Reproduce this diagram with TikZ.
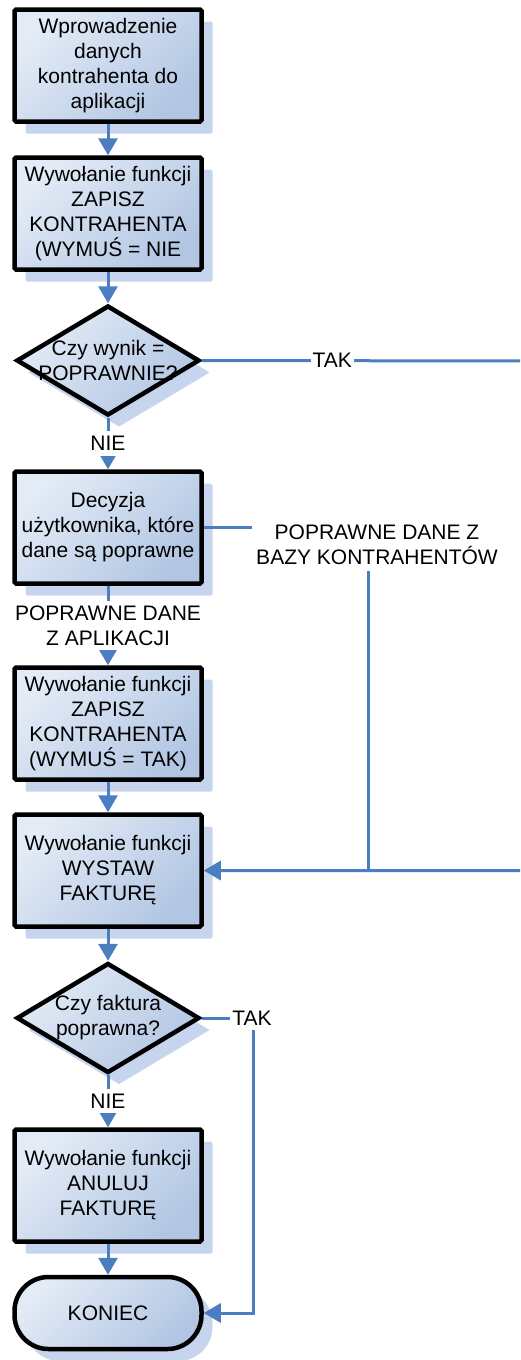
\documentclass[tikz,border=0pt]{standalone}
\usepackage{fontspec}
\setmainfont{Liberation Sans}
\usetikzlibrary{arrows.meta,shapes.geometric,shadows}

% Colours of the chart
\definecolor{boxlight}{RGB}{227,235,246}
\definecolor{boxdark}{RGB}{178,198,227}
\definecolor{linkblue}{RGB}{74,126,193}
\definecolor{shadowblue}{RGB}{198,213,237}

\tikzset{
  shaded/.style={draw=black, line width=4.5pt, top color=boxlight, bottom color=boxdark, shading angle=45,
    drop shadow={shadow xshift=11pt, shadow yshift=-12pt, fill=shadowblue, opacity=1}},
  procbox/.style={shaded, rectangle, rounded corners=1.5pt, minimum width=187pt, minimum height=112pt,
    inner sep=3pt, align=center},
  decision/.style={shaded, diamond, minimum width=183pt, minimum height=110pt, inner sep=0pt},
  terminal/.style={shaded, rectangle, rounded corners=34pt, minimum width=187pt, minimum height=72pt},
  link/.style={draw=linkblue, line width=3pt},
  arrow/.style={link, -{Triangle[width=19pt,length=17pt]}},
  lbl/.style={fill=white, inner xsep=2pt, inner ysep=5pt, align=center}
}

\begin{document}
\begin{tikzpicture}[x=1pt, y=-1pt, font=\fontsize{21}{25}\selectfont]

    % Frame of the picture
    \path[use as bounding box, clip] (0,0) rectangle (520,1360);

    % Points off the boxes
    \coordinate (poza) at (545,361);    % Right of the picture
    \coordinate (scal) at (368,871);    % Where the two branches meet

    % Boxes of the main column
    \node[procbox] (wprow) at (108,65.5) {Wprowadzenie\\danych\\kontrahenta do\\aplikacji};
    \node[procbox] (zapisznie) at (108,213.5) {Wywołanie funkcji\\ZAPISZ\\KONTRAHENTA\\(WYMUŚ = NIE};
    \node[decision, label={[align=center]center:Czy wynik =\\POPRAWNIE?}] (wynik) at (108,360.5) {};
    \node[procbox] (decyzja) at (108,527.5) {Decyzja\\użytkownika, które\\dane są poprawne};
    \node[procbox] (zapisztak) at (108,723.5) {Wywołanie funkcji\\ZAPISZ\\KONTRAHENTA\\(WYMUŚ = TAK)};
    \node[procbox] (wystaw) at (108,870.5) {Wywołanie funkcji\\WYSTAW\\FAKTURĘ};
    \node[decision, label={[align=center]center:Czy faktura\\poprawna?}] (faktura) at (108,1018) {};
    \node[procbox] (anuluj) at (108,1185.5) {Wywołanie funkcji\\ANULUJ\\FAKTURĘ};
    \node[terminal] (koniec) at (108,1313) {KONIEC};

    % Arrows down the column
    \draw[arrow] (wprow) -- (zapisznie);
    \draw[arrow] (zapisznie) -- (wynik);
    \draw[arrow] (wynik) -- node[lbl] {NIE} (decyzja);
    \draw[arrow] (decyzja) -- node[lbl] {POPRAWNE DANE\\Z APLIKACJI} (zapisztak);
    \draw[arrow] (zapisztak) -- (wystaw);
    \draw[arrow] (wystaw) -- (faktura);
    \draw[arrow] (faktura) -- node[lbl] {NIE} (anuluj);
    \draw[arrow] (anuluj) -- (koniec);

    % Branch TAK of the first question
    \draw[arrow] (wynik.east) -- node[lbl, pos=0.38] {TAK} (poza) |- (wystaw.east);

    % Branch with the data of the base
    \draw[link] (decyzja.east) -| (scal);
    \node[lbl, inner xsep=4pt, inner ysep=6pt] (baza) at (377,545) {POPRAWNE DANE Z\\BAZY KONTRAHENTÓW};

    % Branch TAK of the second question
    \draw[arrow] (faktura.east) -- ++(52,0) |- (koniec.east);
    \node[lbl] (tak) at (252,1018) {TAK};

\end{tikzpicture}
\end{document}
